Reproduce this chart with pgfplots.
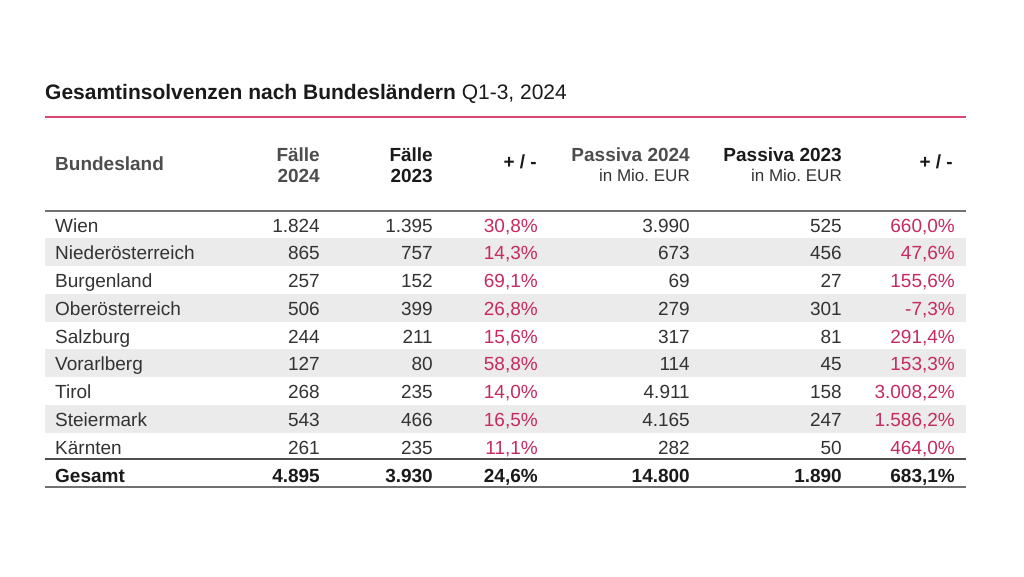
\documentclass[border=0pt]{standalone}
\usepackage{pgfplots}
\pgfplotsset{compat=1.18}
\usepackage{pgfplotstable}
\usepackage{fontspec}
\setmainfont{Liberation Sans}
\definecolor{txt}{HTML}{333333}
\definecolor{dark}{HTML}{1A1A1A}
\definecolor{redt}{HTML}{C72A5E}
\definecolor{pinkline}{HTML}{D9466F}
\definecolor{rowgray}{HTML}{EBEBEB}
\definecolor{rulegray}{HTML}{707070}
\definecolor{hdrgray}{HTML}{4D4D4D}

\pgfplotstableread{
y name f24 f23 fp p24 p23 pp
232.0 Wien 1.824 1.395 30,8 3.990 525 660,0
259.75 Niederösterreich 865 757 14,3 673 456 47,6
287.5 Burgenland 257 152 69,1 69 27 155,6
315.25 Oberösterreich 506 399 26,8 279 301 -7,3
343.0 Salzburg 244 211 15,6 317 81 291,4
370.75 Vorarlberg 127 80 58,8 114 45 153,3
398.5 Tirol 268 235 14,0 4.911 158 3.008,2
426.25 Steiermark 543 466 16,5 4.165 247 1.586,2
454.0 Kärnten 261 235 11,1 282 50 464,0
}\rows

\pgfplotstableread{
y name f24 f23 fp p24 p23 pp
482.0 Gesamt 4.895 3.930 24,6 14.800 1.890 683,1
}\totals

\newcommand\rowfont{\fontsize{19}{22}\selectfont}

\begin{document}
\begin{tikzpicture}
\begin{axis}[
  scale only axis, width=1024pt, height=576pt,
  xmin=0, xmax=1024, ymin=0, ymax=576, y dir=reverse,
  hide axis, clip=false,
  point meta=explicit symbolic,
  cycle list={{draw=none, mark=none}},
  every axis plot/.append style={draw=none, mark=none, nodes near coords,
     nodes near coords style={anchor=base east, inner sep=0pt, font=\rowfont, text=txt}},
]
\path (axis cs:0,0) rectangle (axis cs:1024,576);
% shaded rows
\fill[rowgray] (axis cs:45,238.25) rectangle (axis cs:966,266.25);
\fill[rowgray] (axis cs:45,293.75) rectangle (axis cs:966,321.75);
\fill[rowgray] (axis cs:45,349.25) rectangle (axis cs:966,377.25);
\fill[rowgray] (axis cs:45,404.75) rectangle (axis cs:966,432.75);
% rules
\draw[pinkline, line width=1.5pt] (axis cs:45,117) -- (axis cs:966,117);
\draw[rulegray, line width=1.5pt] (axis cs:45,211) -- (axis cs:966,211);
\draw[hdrgray, line width=2pt] (axis cs:45,459) -- (axis cs:966,459);
\draw[rulegray, line width=2pt] (axis cs:45,487) -- (axis cs:966,487);
% title
\node[anchor=base west, inner sep=0pt, text=dark, font=\fontsize{21}{24}\selectfont]
  at (axis cs:45,99) {\textbf{Gesamtinsolvenzen nach Bundesländern} Q1-3, 2024};
% header
\node[anchor=base west, inner sep=0pt, text=hdrgray, font=\rowfont\bfseries] at (axis cs:55,170) {Bundesland};
\node[anchor=base east, inner sep=0pt, text=hdrgray, font=\rowfont\bfseries] at (axis cs:320,161) {Fälle};
\node[anchor=base east, inner sep=0pt, text=hdrgray, font=\rowfont\bfseries] at (axis cs:320,182) {2024};
\node[anchor=base east, inner sep=0pt, text=dark, font=\rowfont\bfseries] at (axis cs:433,161) {Fälle};
\node[anchor=base east, inner sep=0pt, text=dark, font=\rowfont\bfseries] at (axis cs:433,182) {2023};
\node[anchor=base east, inner sep=0pt, text=dark, font=\rowfont\bfseries] at (axis cs:537,168) {+ / -};
\node[anchor=base east, inner sep=0pt, text=hdrgray, font=\rowfont\bfseries] at (axis cs:690,161) {Passiva 2024};
\node[anchor=base east, inner sep=0pt, text=txt, font=\fontsize{17}{20}\selectfont] at (axis cs:690,181) {in Mio.\ EUR};
\node[anchor=base east, inner sep=0pt, text=dark, font=\rowfont\bfseries] at (axis cs:842,161) {Passiva 2023};
\node[anchor=base east, inner sep=0pt, text=txt, font=\fontsize{17}{20}\selectfont] at (axis cs:842,181) {in Mio.\ EUR};
\node[anchor=base east, inner sep=0pt, text=dark, font=\rowfont\bfseries] at (axis cs:953,168) {+ / -};
% body rows
\addplot[nodes near coords style={anchor=base west}] table[x expr=55, y=y, meta=name] {\rows};
\addplot[] table[x expr=320, y=y, meta=f24] {\rows};
\addplot[] table[x expr=433, y=y, meta=f23] {\rows};
\addplot[nodes near coords={\pgfplotspointmeta\%}, nodes near coords style={text=redt}] table[x expr=538, y=y, meta=fp] {\rows};
\addplot[] table[x expr=690, y=y, meta=p24] {\rows};
\addplot[] table[x expr=842, y=y, meta=p23] {\rows};
\addplot[nodes near coords={\pgfplotspointmeta\%}, nodes near coords style={text=redt}] table[x expr=955, y=y, meta=pp] {\rows};
% totals
\addplot[nodes near coords style={anchor=base west, font=\rowfont\bfseries, text=dark}] table[x expr=55, y=y, meta=name] {\totals};
\addplot[nodes near coords style={font=\rowfont\bfseries, text=dark}] table[x expr=320, y=y, meta=f24] {\totals};
\addplot[nodes near coords style={font=\rowfont\bfseries, text=dark}] table[x expr=433, y=y, meta=f23] {\totals};
\addplot[nodes near coords={\pgfplotspointmeta\%}, nodes near coords style={font=\rowfont\bfseries, text=dark}] table[x expr=538, y=y, meta=fp] {\totals};
\addplot[nodes near coords style={font=\rowfont\bfseries, text=dark}] table[x expr=690, y=y, meta=p24] {\totals};
\addplot[nodes near coords style={font=\rowfont\bfseries, text=dark}] table[x expr=842, y=y, meta=p23] {\totals};
\addplot[nodes near coords={\pgfplotspointmeta\%}, nodes near coords style={font=\rowfont\bfseries, text=dark}] table[x expr=955, y=y, meta=pp] {\totals};
\end{axis}
\end{tikzpicture}
\end{document}
